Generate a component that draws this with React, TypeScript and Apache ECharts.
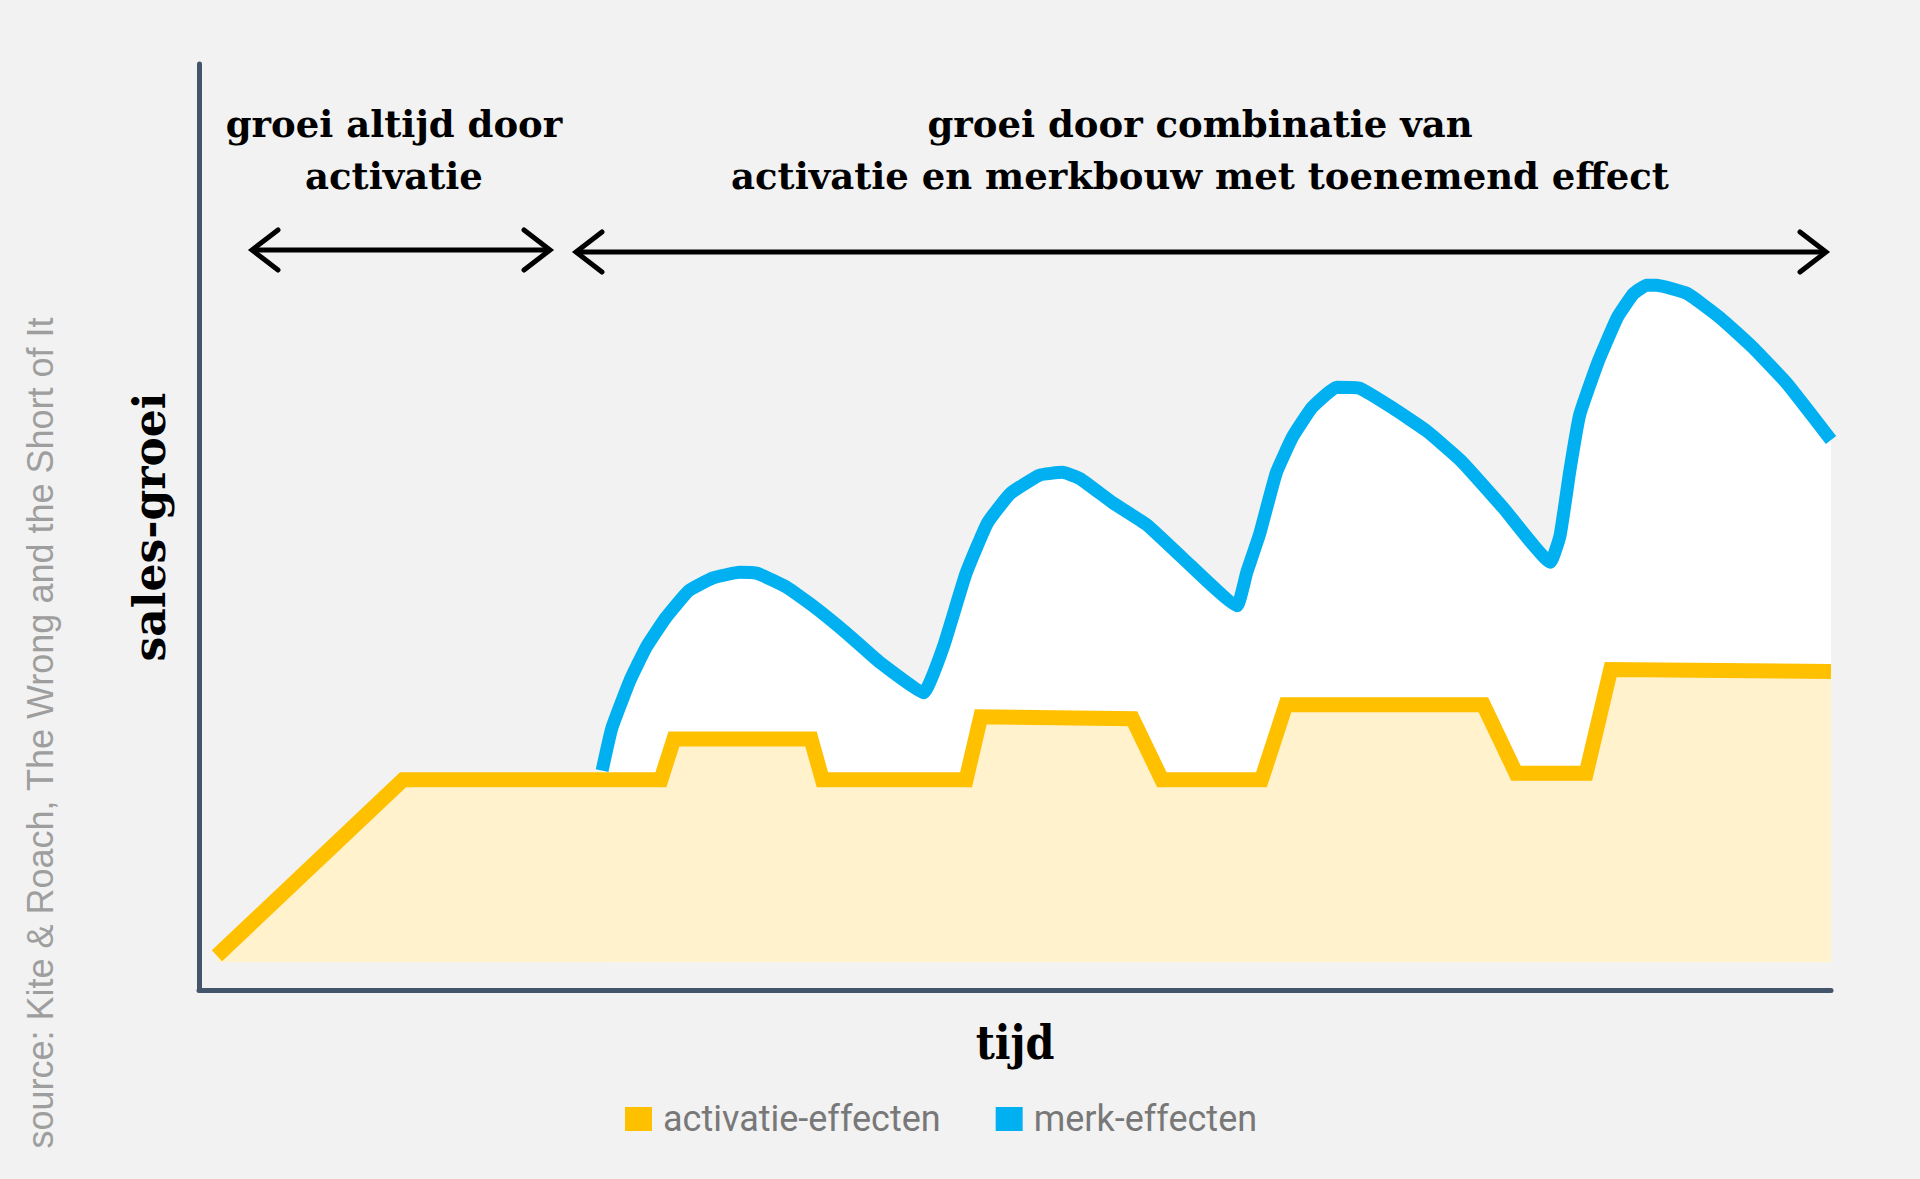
import React, { useEffect, useRef } from 'react';
import * as echarts from 'echarts';

// ---- data ----
const seriesNames = ['activatie-effecten', 'merk-effecten'];

const activatieTijd = [1.1, 12.5, 28.3, 29.1, 37.5, 38.2, 47.0, 47.9, 57.2, 59.0, 65.1, 66.6, 78.7, 80.7, 85.0, 86.5, 100];
const activatieWaarde = [3.7, 22.7, 22.7, 27.1, 27.1, 22.7, 22.7, 29.5, 29.3, 22.7, 22.7, 30.8, 30.8, 23.4, 23.4, 34.6, 34.4];

const merkTijd = [
  24.7, 25.3, 26.4, 27.4, 28.6, 30.0, 31.5, 33.1, 34.2, 36.0, 37.6, 39.7, 41.7, 44.4,
  45.6, 47.0, 48.3, 49.7, 51.5, 52.9, 54.0, 56.0, 58.1, 60.3, 63.6,
  64.2, 65.0, 66.0, 67.0, 68.2, 69.7, 71.1, 73.1, 75.2, 77.3, 79.9, 82.8,
  83.4, 84.0, 84.6, 85.7, 86.9, 87.9, 88.7, 89.3, 91.2, 93.2, 95.2, 97.3, 100,
];
const merkWaarde = [
  23.7, 28.3, 33.4, 37.0, 40.2, 43.1, 44.5, 45.1, 45.0, 43.5, 41.5, 38.5, 35.4, 32.1,
  37.0, 45.0, 50.4, 53.6, 55.6, 55.9, 55.2, 52.6, 50.2, 46.6, 41.5,
  45.1, 49.3, 55.8, 59.7, 62.9, 65.1, 65.0, 62.9, 60.4, 57.2, 52.1, 46.2,
  49.1, 56.1, 62.1, 67.7, 72.6, 75.2, 76.1, 76.1, 75.2, 72.6, 69.4, 65.5, 59.4,
];

const basisNiveau = 3;
const titelLinks = ['groei altijd door', 'activatie'];
const titelRechts = ['groei door combinatie van', 'activatie en merkbouw met toenemend effect'];
const bron = 'source: Kite & Roach, The Wrong and the Short of It';
const xNaam = 'tijd';
const yNaam = 'sales-groei';

const GEEL = '#FFC000';
const BLAUW = '#00B0F0';
const CREME = '#FFF2CC';
const AS = '#44546A';
const BG = '#F2F2F2';

function arrow(x1: number, x2: number, y: number) {
  const dx = 26;
  const dy = 20;
  const style = { stroke: '#000', lineWidth: 5, fill: null, lineCap: 'round', lineJoin: 'miter' };
  return [
    { type: 'line', shape: { x1, y1: y, x2, y2: y }, style: { ...style, lineCap: 'butt' } },
    { type: 'polyline', shape: { points: [[x1 + dx, y - dy], [x1, y], [x1 + dx, y + dy]] }, style },
    { type: 'polyline', shape: { points: [[x2 - dx, y - dy], [x2, y], [x2 - dx, y + dy]] }, style },
  ];
}

export default function App() {
  const ref = useRef<HTMLDivElement>(null);

  useEffect(() => {
    if (!ref.current) return;
    const chart = echarts.init(ref.current, null, { renderer: 'svg' });

    const titleFont = {
      fontFamily: '"DejaVu Serif"',
      fontWeight: 'bold',
      fontSize: 37,
      fill: '#000',
      align: 'center',
      verticalAlign: 'middle',
      lineHeight: 52,
    };

    chart.setOption({
      animation: false,
      backgroundColor: BG,
      grid: { left: 199, right: 89, top: 64, bottom: 189, containLabel: false },
      xAxis: {
        type: 'value',
        min: 0,
        max: 100,
        name: xNaam,
        nameLocation: 'middle',
        nameGap: 30,
        nameTextStyle: { fontFamily: '"DejaVu Serif Condensed"', fontWeight: 'bold', fontSize: 46, color: '#000' },
        axisLine: { show: true, lineStyle: { color: AS, width: 5 } },
        axisTick: { show: false },
        axisLabel: { show: false },
        splitLine: { show: false },
      },
      yAxis: {
        type: 'value',
        min: 0,
        max: 100,
        name: yNaam,
        nameLocation: 'middle',
        nameRotate: 90,
        nameGap: 28,
        nameTextStyle: { fontFamily: '"DejaVu Serif"', fontWeight: 'bold', fontSize: 44, color: '#000' },
        axisLine: { show: true, lineStyle: { color: AS, width: 5 } },
        axisTick: { show: false },
        axisLabel: { show: false },
        splitLine: { show: false },
      },
      legend: {
        data: [
          { name: seriesNames[0], itemStyle: { color: GEEL } },
          { name: seriesNames[1], itemStyle: { color: BLAUW } },
        ],
        left: 620,
        top: 1096,
        icon: 'rect',
        itemWidth: 27,
        itemHeight: 24,
        itemGap: 55,
        selectedMode: false,
        textStyle: { fontFamily: 'Roboto', fontSize: 36, color: '#787878', padding: [0, 0, 0, 6] },
      },
      series: [
        {
          name: seriesNames[1],
          type: 'line',
          data: merkTijd.map((t, i) => [t, merkWaarde[i]]),
          showSymbol: false,
          silent: true,
          smooth: 0.12,
          itemStyle: { color: BLAUW },
          lineStyle: { color: BLAUW, width: 13, join: 'miter', cap: 'butt' },
          areaStyle: { color: '#FFFFFF', opacity: 1, origin: basisNiveau },
          z: 2,
        },
        {
          name: seriesNames[0],
          type: 'line',
          data: activatieTijd.map((t, i) => [t, activatieWaarde[i]]),
          showSymbol: false,
          silent: true,
          smooth: false,
          itemStyle: { color: GEEL },
          lineStyle: { color: GEEL, width: 15, join: 'miter', cap: 'butt' },
          areaStyle: { color: CREME, opacity: 1, origin: basisNiveau },
          z: 3,
        },
      ],
      graphic: [
        ...arrow(252, 550, 250),
        ...arrow(576, 1826, 252),
        {
          type: 'text',
          x: 394,
          y: 150,
          style: { text: titelLinks.join('\n'), ...titleFont },
        },
        {
          type: 'text',
          x: 1200,
          y: 150,
          style: { text: titelRechts.join('\n'), ...titleFont },
        },
        {
          type: 'text',
          x: 40,
          y: 733,
          rotation: Math.PI / 2,
          style: {
            text: bron,
            fontFamily: '"Liberation Sans"',
            fontSize: 36,
            fill: '#9E9E9E',
            align: 'center',
            verticalAlign: 'middle',
          },
        },
      ],
    });

    return () => chart.dispose();
  }, []);

  return (
    <div
      ref={ref}
      style={{ position: 'fixed', left: 0, top: 0, width: 1920, height: 1179, background: BG }}
    />
  );
}
